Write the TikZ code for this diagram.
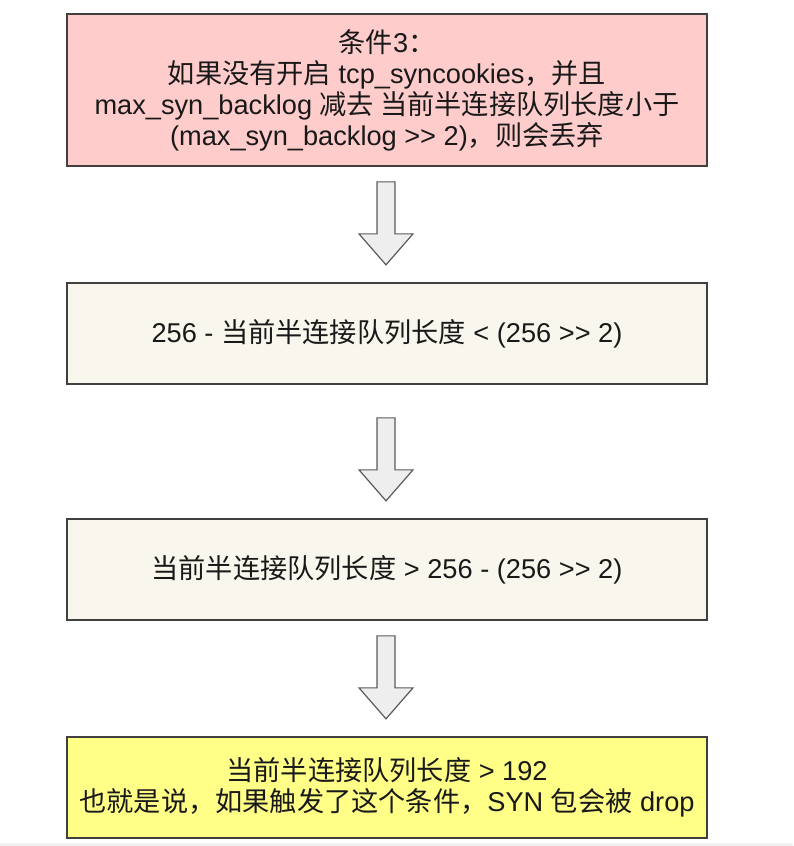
\documentclass[tikz,border=0pt]{standalone}
\usepackage{fontspec}
\setmainfont{Liberation Sans}
\newfontfamily\cjkfont{Noto Sans CJK SC}
\newcommand{\zh}[1]{{\cjkfont #1}}
\usetikzlibrary{calc}
\definecolor{boxline}{HTML}{404040}
\definecolor{arrline}{HTML}{5A5A5A}
\definecolor{arrfill}{HTML}{EEEEEE}
\definecolor{pinkfill}{HTML}{FFCCCC}
\definecolor{creamfill}{HTML}{F9F7ED}
\definecolor{yellowfill}{HTML}{FFFF88}
\definecolor{bandgray}{HTML}{F0F0F0}
\begin{document}
\begin{tikzpicture}[x=1pt,y=-1pt,
  box/.style={draw=boxline, line width=1.3pt, minimum width=640pt, inner sep=0pt,
    align=center, font=\fontsize{27.2}{31}\selectfont, text=black!90},
  blockarrow/.style={draw=arrline, fill=arrfill, line width=1.2pt, line join=miter}]
\useasboundingbox (0,0) rectangle (793,846);
\fill[bandgray] (0,843) rectangle (793,846);
\node[box, fill=pinkfill, minimum height=152pt] (b1) at (387,90)
  {\zh{条件}3\zh{：}\\
   \zh{如果没有开启} tcp\_syncookies\zh{，并且}\\
   max\_syn\_backlog \zh{减去 当前半连接队列长度小于}\\
   (max\_syn\_backlog >{}> 2)\zh{，则会丢弃}};
\node[box, fill=creamfill, minimum height=101pt] (b2) at (387,333.5)
  {256 - \zh{当前半连接队列长度} < (256 >{}> 2)};
\node[box, fill=creamfill, minimum height=101pt] (b3) at (387,569.5)
  {\zh{当前半连接队列长度} > 256 - (256 >{}> 2)};
\node[box, fill=yellowfill, minimum height=101pt] (b4) at (387,787.5)
  {\zh{当前半连接队列长度} > 192\\
   \zh{也就是说，如果触发了这个条件，}SYN \zh{包会被} drop};
\foreach \nxt in {b2,b3,b4}{
  \draw[blockarrow] ($(\nxt.north)+(-1,-17.5)$) -- ++(-27,-31) -- ++(18,0) -- ++(0,-52)
    -- ++(18,0) -- ++(0,52) -- ++(18,0) -- cycle;
}
\end{tikzpicture}
\end{document}
